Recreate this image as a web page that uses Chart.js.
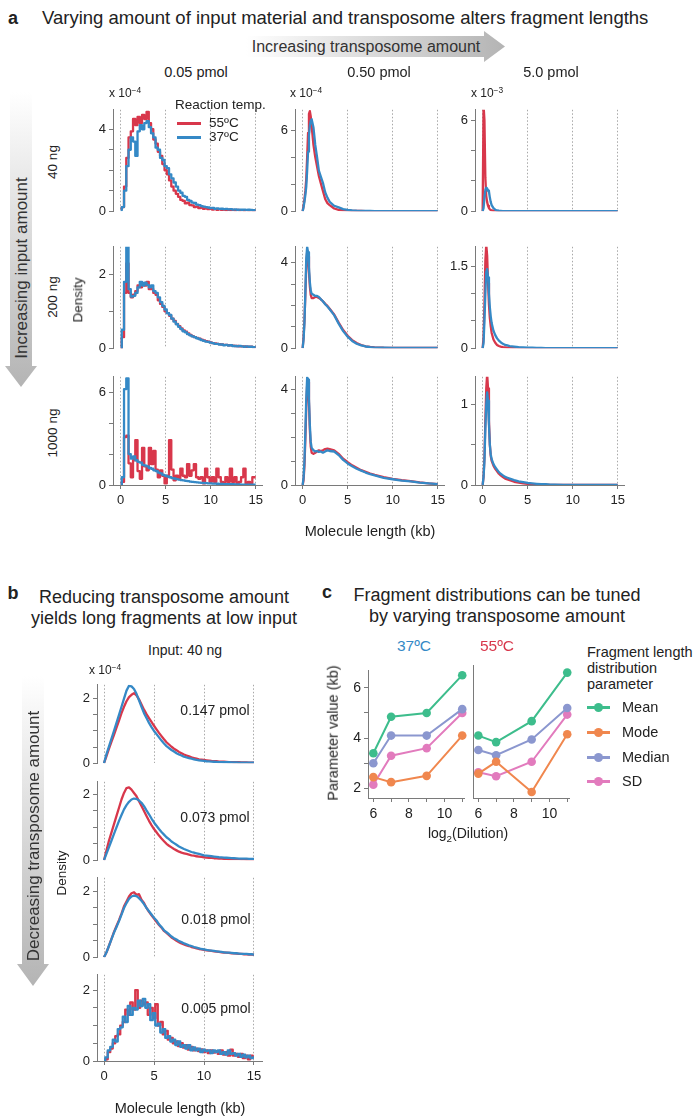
<!DOCTYPE html>
<html>
<head>
<meta charset="utf-8">
<script src="https://cdn.jsdelivr.net/npm/chart.js@4.4.1/dist/chart.umd.min.js"></script>
<style>
  body { margin: 0; background: #fff; width: 696px; height: 1119px; position: relative; overflow: hidden;
         font-family: "Liberation Sans", Arial, sans-serif; color: #222; }
  .t { position: absolute; white-space: nowrap; line-height: 1; z-index: 3; }
  canvas { position: absolute; z-index: 2; }
  svg.arrows { position: absolute; left: 0; top: 0; z-index: 1; }
  .key { position: absolute; height: 2.5px; z-index: 3; }
  .dot { position: absolute; width: 9px; height: 9px; border-radius: 50%; z-index: 3; }
  sup { font-size: 70%; vertical-align: 0.45em; line-height: 0; }
</style>
</head>
<body>
<svg class="arrows" width="696" height="1119">
  <defs>
    <linearGradient id="gH" x1="0" x2="1" y1="0" y2="0">
      <stop offset="0" stop-color="#ffffff"/><stop offset="1" stop-color="#b4b4b4"/>
    </linearGradient>
    <linearGradient id="gV" x1="0" x2="0" y1="0" y2="1">
      <stop offset="0" stop-color="#ffffff"/><stop offset="1" stop-color="#b4b4b4"/>
    </linearGradient>
  </defs>
  <polygon points="246,36 484,36 484,31 505,46.5 484,62 484,57 246,57" fill="url(#gH)"/>
  <polygon points="10,92 32,92 32,366 37,366 21,387 5,366 10,366" fill="url(#gV)"/>
  <polygon points="22,676 44,676 44,964 49,964 33,986 17,964 22,964" fill="url(#gV)"/>
</svg>

<script>
// ---- x grids (kb) ----
const kbCoarse = [0,0.25,0.5,0.75,1,1.25,1.5,1.75,2,2.25,
  2.5,2.75,3,3.25,3.5,3.75,4,4.25,4.5,4.75,
  5,5.25,5.5,5.75,6,6.25,6.5,6.75,7,7.25,
  7.5,7.75,8,8.25,8.5,8.75,9,9.25,9.5,9.75,
  10,10.25,10.5,10.75,11,11.25,11.5,11.75,12,12.25,
  12.5,12.75,13,13.25,13.5,13.75,14,14.25,14.5,14.75,15];
const kbFine = [0,0.1,0.2,0.3,0.4,0.5,0.6,0.7,0.8,0.9,
  1,1.2,1.4,1.6,1.8,2,2.25,2.5,2.75,3,
  3.5,4,4.5,5,5.5,6,6.5,7,7.5,8,9,10,11,12,13,14,15];

// ---- panel a: density, 0.05 pmol (x 1e-4) ----
const ng40_p005_37C = [0.05,0.2,1.0,2.2,3.0,3.6,3.4,2.7,3.9,4.2,
  4.0,4.3,4.4,4.1,3.8,3.6,3.1,3.0,2.6,2.5,
  2.2,2.1,1.8,1.6,1.4,1.2,1.0,0.9,0.75,0.7,
  0.55,0.5,0.42,0.4,0.32,0.3,0.25,0.22,0.2,0.18,
  0.15,0.16,0.12,0.14,0.11,0.12,0.1,0.11,0.09,0.1,
  0.08,0.09,0.07,0.08,0.07,0.08,0.06,0.07,0.06,0.05,0.05];
const ng40_p005_55C = [0.1,0.2,1.2,2.6,3.6,3.9,4.5,4.2,4.6,4.3,
  4.7,4.5,4.85,4.3,4.0,3.5,3.3,2.9,2.7,2.3,
  2.0,1.8,1.5,1.2,1.0,0.85,0.7,0.55,0.5,0.38,
  0.42,0.3,0.28,0.2,0.22,0.15,0.18,0.12,0.14,0.1,
  0.12,0.08,0.1,0.07,0.09,0.06,0.08,0.05,0.07,0.05,
  0.06,0.04,0.06,0.04,0.05,0.03,0.05,0.03,0.04,0.03,0.03];
const ng200_p005_37C = [0,0.5,1.8,2.75,1.6,1.4,1.42,1.5,1.65,1.8,
  1.7,1.78,1.72,1.65,1.7,1.55,1.5,1.38,1.25,1.15,
  1.05,0.95,0.9,0.8,0.72,0.65,0.58,0.52,0.46,0.43,
  0.38,0.35,0.32,0.3,0.27,0.25,0.22,0.2,0.18,0.17,
  0.15,0.14,0.12,0.12,0.1,0.1,0.08,0.09,0.07,0.08,
  0.06,0.06,0.05,0.06,0.05,0.04,0.05,0.04,0.04,0.03,0.03];
const ng200_p005_55C = [0,0.3,1.5,2.3,1.5,1.38,1.45,1.55,1.7,1.65,
  1.75,1.7,1.8,1.6,1.6,1.5,1.45,1.3,1.2,1.12,
  1.0,0.95,0.88,0.8,0.74,0.66,0.6,0.54,0.48,0.45,
  0.4,0.36,0.33,0.3,0.28,0.26,0.23,0.21,0.19,0.18,
  0.16,0.14,0.13,0.12,0.11,0.1,0.09,0.09,0.08,0.08,
  0.07,0.06,0.06,0.05,0.05,0.05,0.04,0.04,0.04,0.03,0.03];
const ng1000_p005_37C = [0,0.5,6.2,6.9,2.0,1.7,1.85,1.6,1.5,1.45,
  1.3,1.25,1.2,1.1,1.05,0.95,0.9,0.8,0.75,0.65,
  0.6,0.55,0.5,0.45,0.42,0.38,0.35,0.32,0.3,0.27,
  0.25,0.22,0.2,0.19,0.17,0.16,0.14,0.13,0.12,0.11,
  0.1,0.09,0.09,0.08,0.07,0.07,0.06,0.06,0.05,0.05,
  0.05,0.04,0.04,0.04,0.03,0.03,0.03,0.03,0.02,0.02,0.02];
const ng1000_p005_55C = [0,0.2,3.1,3.2,1.4,0.5,1.6,2.9,0.9,0.4,
  2.4,1.2,0.95,2.4,1.35,2.2,1.0,0.5,0.95,0.6,
  0.1,0.6,2.9,1.0,0.3,0.6,0.4,1.05,0.6,0.5,
  1.35,0.6,0.95,1.35,0.5,0.4,0.5,0.1,1.05,0.5,
  0.2,0.5,0.2,1.05,0.5,0.2,0.1,0.5,0.2,1.05,
  0.2,0.5,0.1,0.2,0.5,1.05,0.1,0.2,0.1,0.5,0.5];

// ---- panel a: 0.50 pmol (x 1e-4) ----
const ng40_p050_37C = [0,0.3,0.7,1.2,1.8,3.0,4.4,5.6,6.3,6.7,
  6.8,6.2,4.9,4.0,3.0,2.6,2.1,1.4,1.0,0.7,
  0.4,0.28,0.15,0.1,0.06,0.04,0.03,0.02,0.02,0.01,0.01,0.01,0.01,0.01,0.01,0.01,0.01];
const ng40_p050_55C = [0,0.4,0.9,1.5,2.4,4.0,5.8,7.2,7.4,7.0,
  6.3,4.9,4.0,3.3,2.6,2.1,1.5,0.9,0.6,0.45,
  0.2,0.1,0.06,0.04,0.03,0.02,0.02,0.01,0.01,0.01,0.01,0.01,0.01,0.01,0.01,0.01,0.01];
const ng200_p050_37C = [0,0.4,1.2,2.6,4.2,4.75,4.5,3.8,3.1,2.7,
  2.55,2.5,2.45,2.45,2.4,2.3,2.2,2.06,1.95,1.82,
  1.55,1.15,0.8,0.54,0.34,0.21,0.13,0.08,0.05,0.03,0.02,0.01,0.01,0.01,0.01,0.01,0.01];
const ng200_p050_55C = [0,0.5,1.3,2.5,3.8,4.5,4.3,3.6,2.9,2.5,
  2.35,2.35,2.4,2.4,2.35,2.3,2.2,2.08,1.98,1.85,
  1.58,1.2,0.85,0.58,0.38,0.24,0.15,0.09,0.06,0.04,0.02,0.01,0.01,0.01,0.01,0.01,0.01];
const ng1000_p050_37C = [0,0.3,1.0,2.2,3.6,4.5,4.4,3.6,2.5,1.8,
  1.55,1.45,1.4,1.42,1.38,1.4,1.35,1.4,1.45,1.42,
  1.4,1.25,1.05,0.9,0.78,0.68,0.6,0.52,0.45,0.4,0.3,0.24,0.18,0.15,0.1,0.07,0.04];
const ng1000_p050_55C = [0,0.2,0.8,1.9,3.2,4.2,4.3,3.5,2.3,1.6,
  1.35,1.3,1.35,1.4,1.45,1.42,1.45,1.5,1.52,1.5,
  1.45,1.3,1.1,0.95,0.82,0.72,0.62,0.55,0.48,0.42,0.33,0.26,0.2,0.16,0.11,0.07,0.04];

// ---- panel a: 5.0 pmol (x 1e-3) ----
const ng40_p5_37C = [0,0.2,0.9,1.4,1.55,1.5,1.35,1.3,0.9,0.6,
  0.4,0.2,0.1,0.05,0.03,0.02,0.01,0.01,0.005,0.005,
  0,0,0,0,0,0,0,0,0,0,0,0,0,0,0,0,0];
const ng40_p5_55C = [0,7.0,6.0,2.2,1.0,0.6,0.35,0.2,0.12,0.08,
  0.05,0.03,0.02,0.01,0.01,0.01,0.01,0,0,0,
  0,0,0,0,0,0,0,0,0,0,0,0,0,0,0,0,0];
const ng200_p5_37C = [0,0.1,0.5,1.0,1.4,1.45,1.3,1.0,0.75,0.58,
  0.46,0.32,0.24,0.18,0.14,0.11,0.08,0.06,0.05,0.04,
  0.03,0.02,0.015,0.01,0.01,0.005,0.005,0,0,0,0,0,0,0,0,0,0];
const ng200_p5_55C = [0,0.2,0.8,1.6,1.9,1.7,1.2,0.8,0.55,0.4,
  0.28,0.16,0.1,0.06,0.04,0.03,0.02,0.015,0.01,0.01,
  0.005,0.005,0,0,0,0,0,0,0,0,0,0,0,0,0,0,0];
const ng1000_p5_37C = [0,0.1,0.3,0.7,1.0,1.15,1.05,0.75,0.5,0.38,
  0.32,0.26,0.22,0.19,0.16,0.14,0.12,0.1,0.09,0.08,
  0.06,0.045,0.035,0.025,0.02,0.015,0.01,0.01,0.005,0.005,0,0,0,0,0,0,0];
const ng1000_p5_55C = [0,0.1,0.35,0.8,1.2,1.38,1.2,0.8,0.5,0.36,
  0.3,0.24,0.2,0.17,0.14,0.12,0.1,0.08,0.07,0.06,
  0.04,0.03,0.02,0.015,0.01,0.01,0.005,0.005,0,0,0,0,0,0,0,0,0];

// ---- panel b: input 40 ng (x 1e-4) ----
const p0147_37C = [0,0.28,0.52,0.76,1.0,1.25,1.5,1.75,2.0,2.25,
  2.4,2.38,2.3,2.15,1.95,1.75,1.55,1.4,1.25,1.12,
  1.0,0.9,0.8,0.7,0.61,0.53,0.47,0.41,0.36,0.31,
  0.27,0.24,0.2,0.18,0.16,0.14,0.12,0.1,0.09,0.08,
  0.07,0.06,0.055,0.05,0.045,0.04,0.035,0.035,0.03,0.03,
  0.03,0.025,0.025,0.025,0.02,0.02,0.02,0.02,0.02,0.02,0.02];
const p0147_55C = [0,0.22,0.45,0.67,0.88,1.1,1.32,1.55,1.75,1.92,
  2.05,2.12,2.17,2.1,1.98,1.82,1.66,1.52,1.4,1.28,
  1.16,1.05,0.94,0.84,0.74,0.65,0.58,0.51,0.45,0.4,
  0.35,0.31,0.27,0.24,0.21,0.18,0.16,0.14,0.12,0.11,
  0.1,0.09,0.08,0.07,0.065,0.06,0.05,0.05,0.045,0.04,
  0.035,0.035,0.03,0.03,0.03,0.025,0.025,0.025,0.02,0.02,0.02];
const p0073_37C = [0,0.2,0.4,0.6,0.8,1.0,1.2,1.38,1.55,1.68,
  1.78,1.85,1.88,1.87,1.82,1.75,1.65,1.52,1.4,1.27,
  1.15,1.05,0.95,0.86,0.78,0.7,0.64,0.57,0.52,0.47,
  0.42,0.38,0.34,0.31,0.28,0.25,0.23,0.21,0.19,0.17,
  0.15,0.14,0.13,0.12,0.11,0.1,0.09,0.085,0.08,0.075,
  0.07,0.065,0.06,0.055,0.05,0.05,0.045,0.045,0.04,0.04,0.04];
const p0073_55C = [0,0.3,0.6,0.85,1.1,1.35,1.6,1.85,2.05,2.2,
  2.22,2.15,2.05,1.95,1.8,1.65,1.5,1.35,1.2,1.07,
  0.95,0.85,0.75,0.66,0.58,0.5,0.44,0.39,0.34,0.3,
  0.26,0.23,0.21,0.19,0.17,0.15,0.14,0.12,0.11,0.1,
  0.09,0.08,0.075,0.07,0.06,0.055,0.05,0.045,0.04,0.04,
  0.035,0.035,0.03,0.03,0.03,0.025,0.025,0.02,0.02,0.02,0.02];
const p0018_37C = [0,0.15,0.35,0.55,0.75,0.92,1.1,1.3,1.5,1.65,
  1.78,1.85,1.88,1.86,1.8,1.72,1.62,1.5,1.4,1.3,
  1.2,1.12,1.0,0.92,0.82,0.76,0.7,0.63,0.58,0.54,
  0.49,0.46,0.42,0.39,0.36,0.34,0.31,0.29,0.27,0.25,
  0.24,0.22,0.21,0.2,0.19,0.18,0.17,0.16,0.15,0.14,
  0.14,0.13,0.12,0.12,0.11,0.1,0.1,0.1,0.09,0.09,0.08];
const p0018_55C = [0,0.15,0.35,0.56,0.77,0.95,1.13,1.33,1.55,1.7,
  1.85,1.95,1.98,1.9,1.92,1.75,1.65,1.5,1.38,1.28,
  1.18,1.08,0.98,0.9,0.8,0.74,0.67,0.6,0.55,0.5,
  0.46,0.42,0.39,0.36,0.34,0.31,0.29,0.27,0.25,0.24,
  0.22,0.21,0.2,0.19,0.18,0.17,0.16,0.15,0.14,0.14,
  0.13,0.12,0.12,0.11,0.1,0.1,0.09,0.09,0.08,0.08,0.08];
const p0005_37C = [0,0.1,0.3,0.4,0.6,0.55,0.9,0.95,1.25,1.1,
  1.55,1.3,1.5,1.45,1.7,1.55,1.75,1.5,1.6,1.15,
  1.35,1.0,1.05,0.8,0.9,0.65,0.7,0.55,0.6,0.45,
  0.55,0.4,0.45,0.35,0.45,0.3,0.38,0.3,0.35,0.25,
  0.32,0.28,0.3,0.22,0.3,0.25,0.3,0.2,0.25,0.18,
  0.3,0.2,0.22,0.15,0.2,0.12,0.18,0.1,0.15,0.08,0.1];
const p0005_55C = [0,0.05,0.25,0.35,0.5,0.7,0.75,1.0,1.1,1.45,
  1.3,1.65,1.45,2.0,1.5,1.7,1.6,1.65,1.3,1.5,
  1.2,1.6,1.0,1.1,0.75,0.85,0.6,0.65,0.5,0.55,
  0.42,0.5,0.38,0.45,0.32,0.4,0.3,0.35,0.28,0.33,
  0.25,0.3,0.22,0.3,0.24,0.28,0.2,0.3,0.18,0.25,
  0.15,0.32,0.15,0.2,0.12,0.2,0.08,0.15,0.05,0.15,0.1];

// ---- panel c: fragment length parameters (kb) ----
const dilutionLog2 = [6, 7, 9, 11];
const mean37C = [3.4, 4.85, 5.0, 6.5];
const mode37C = [2.45, 2.25, 2.5, 4.1];
const median37C = [3.0, 4.1, 4.1, 5.15];
const sd37C = [2.15, 3.3, 3.6, 5.0];
const mean55C = [4.0, 3.75, 4.55, 6.4];
const mode55C = [2.55, 3.0, 1.85, 4.05];
const median55C = [3.45, 3.25, 3.85, 5.05];
const sd55C = [2.6, 2.45, 3.0, 4.8];
const paramNames = ['Mean', 'Mode', 'Median', 'SD'];

const RED = '#d8374b';
const BLUE = '#3589c6';
const PARAM_COLORS = ['#3dbd8c', '#f0874e', '#8b97cf', '#e27bbd'];
const AXIS = '#7a7a7a';

Chart.defaults.font.family = '"Liberation Sans", Arial, sans-serif';
Chart.defaults.font.size = 13;
Chart.defaults.color = '#222';

const Y_W = 30, X_H = 25, PAD_T = 6, PAD_R = 8, PAD_B = 3;

function txt(html, x, y, o = {}) {
  const d = document.createElement('div');
  d.className = 't';
  d.innerHTML = html;
  d.style.left = x + 'px';
  d.style.top = y + 'px';
  d.style.fontSize = (o.size || 13) + 'px';
  if (o.bold) d.style.fontWeight = 'bold';
  if (o.color) d.style.color = o.color;
  const tx = o.left ? '0' : '-50%';
  d.style.transform = `translate(${tx}, -50%)` + (o.rot ? ` rotate(${o.rot}deg)` : '');
  document.body.appendChild(d);
}

function makeCanvas(x, y, w, h) {
  const c = document.createElement('canvas');
  c.width = w; c.height = h;
  c.style.left = x + 'px'; c.style.top = y + 'px';
  document.body.appendChild(c);
  return c;
}

function pts(xs, ys) {
  return xs.map((x, i) => ({ x, y: ys[i] }));
}

// one density panel; area = plot box in page pixels
function densityPanel(p) {
  const { area, xs, blue, red, yMax, yStep, yLabeled, xMin, xMax, showX, stepped } = p;
  const h = PAD_T + area.h + (showX ? X_H : PAD_B);
  const canvas = makeCanvas(area.x - Y_W, area.y - PAD_T, Y_W + area.w + PAD_R, h);
  const line = (data, color) => ({
    data, borderColor: color, borderWidth: 2.3, pointRadius: 0, tension: 0,
    borderJoinStyle: 'round', stepped: stepped ? 'middle' : false
  });
  new Chart(canvas, {
    type: 'line',
    data: { datasets: [line(pts(xs, blue), BLUE), line(pts(xs, red), RED)] },
    options: {
      responsive: false, animation: false, devicePixelRatio: 1,
      layout: { padding: { top: PAD_T, right: PAD_R, bottom: showX ? 0 : PAD_B, left: 0 } },
      plugins: { legend: { display: false }, tooltip: { enabled: false } },
      scales: {
        x: {
          type: 'linear', min: xMin, max: xMax,
          ticks: { stepSize: 5, display: showX, includeBounds: false, autoSkip: false,
                   maxRotation: 0, padding: 4 },
          grid: { color: '#a8a8a8', drawTicks: showX, tickLength: 4, tickColor: AXIS, tickBorderDash: [] },
          border: { display: showX, color: AXIS, dash: [1.5, 2] },
          afterFit: s => { s.height = showX ? X_H : 0; }
        },
        y: {
          min: 0, max: yMax,
          ticks: { stepSize: yStep, includeBounds: false, autoSkip: false, padding: 3,
                   callback: v => yLabeled.includes(v) ? String(v) : '' },
          grid: { drawOnChartArea: false, tickLength: 4, color: AXIS },
          border: { color: AXIS },
          afterFit: s => { s.width = Y_W; }
        }
      }
    }
  });
}

// ---- panel a layout ----
const aCols = [113, 295, 475];
const aRows = [{ y: 105, h: 114 }, { y: 242, h: 114 }, { y: 372, h: 113 }];
const aCurves = [
  [[ng40_p005_37C, ng40_p005_55C], [ng40_p050_37C, ng40_p050_55C], [ng40_p5_37C, ng40_p5_55C]],
  [[ng200_p005_37C, ng200_p005_55C], [ng200_p050_37C, ng200_p050_55C], [ng200_p5_37C, ng200_p5_55C]],
  [[ng1000_p005_37C, ng1000_p005_55C], [ng1000_p050_37C, ng1000_p050_55C], [ng1000_p5_37C, ng1000_p5_55C]]
];
const aYMax = [[4.95, 7.5, 6.7], [2.75, 4.75, 1.86], [7.0, 4.52, 1.345]];
const aYStep = [[1, 2, 2], [1, 1, 0.5], [2, 1, 0.5]];
const aYLabeled = [[[0, 4], [0, 6], [0, 6]], [[0, 2], [0, 4], [0, 1.5]], [[0, 6], [0, 4], [0, 1]]];

aRows.forEach((row, r) => {
  aCols.forEach((cx, c) => {
    densityPanel({
      area: { x: cx, y: row.y, w: 149, h: row.h },
      xs: c === 0 ? kbCoarse : kbFine,
      blue: aCurves[r][c][0], red: aCurves[r][c][1],
      yMax: aYMax[r][c], yStep: aYStep[r][c], yLabeled: aYLabeled[r][c],
      xMin: -0.85, xMax: 15.7, showX: r === 2, stepped: c === 0
    });
  });
});

// ---- panel b layout ----
const bRows = [{ y: 680, h: 91 }, { y: 777, h: 91 }, { y: 873, h: 92 }, { y: 970, h: 91 }];
const bCurves = [[p0147_37C, p0147_55C], [p0073_37C, p0073_55C], [p0018_37C, p0018_55C], [p0005_37C, p0005_55C]];
const bYMax = [2.43, 2.39, 2.42, 2.43];
bRows.forEach((row, r) => {
  densityPanel({
    area: { x: 97, y: row.y, w: 165, h: row.h },
    xs: kbCoarse, blue: bCurves[r][0], red: bCurves[r][1],
    yMax: bYMax[r], yStep: 0.5, yLabeled: [0, 2],
    xMin: -0.7, xMax: 15.8, showX: r === 3, stepped: r === 3
  });
});

// ---- panel c ----
function paramPanel(areaX, series, showY) {
  const area = { x: areaX, y: 665, w: 96, h: 133 };
  const canvas = makeCanvas(area.x - Y_W, area.y - PAD_T, Y_W + area.w + PAD_R, PAD_T + area.h + X_H);
  new Chart(canvas, {
    type: 'line',
    data: {
      datasets: series.map((s, i) => ({
        label: paramNames[i], data: pts(dilutionLog2, s),
        borderColor: PARAM_COLORS[i], backgroundColor: PARAM_COLORS[i],
        borderWidth: 2, pointRadius: 4.3, pointBorderWidth: 0, tension: 0, clip: false
      }))
    },
    options: {
      responsive: false, animation: false, devicePixelRatio: 1,
      layout: { padding: { top: PAD_T, right: PAD_R, bottom: 0, left: 0 } },
      plugins: { legend: { display: false }, tooltip: { enabled: false } },
      scales: {
        x: {
          type: 'linear', min: 5.7, max: 11.1,
          ticks: { stepSize: 1, includeBounds: false, autoSkip: false, maxRotation: 0, padding: 4,
                   font: { size: 14 }, callback: v => [6, 8, 10].includes(v) ? String(v) : '' },
          grid: { drawOnChartArea: false, tickLength: 4, color: AXIS },
          border: { color: AXIS },
          afterFit: s => { s.height = X_H; }
        },
        y: {
          min: 1.62, max: 6.69,
          ticks: { stepSize: 1, includeBounds: false, autoSkip: false, padding: 3, display: showY,
                   font: { size: 14 }, callback: v => [2, 4, 6].includes(v) ? String(v) : '' },
          grid: { drawOnChartArea: false, drawTicks: showY, tickLength: 4, color: AXIS },
          border: { color: AXIS },
          afterFit: s => { s.width = Y_W; }
        }
      }
    }
  });
}
paramPanel(368, [mean37C, mode37C, median37C, sd37C], true);
paramPanel(473, [mean55C, mode55C, median55C, sd55C], false);

// ---- text: panel a ----
txt('a', 13, 18, { size: 18, bold: true });
txt('Varying amount of input material and transposome alters fragment lengths', 42, 18, { size: 18.5, left: true });
txt('Increasing transposome amount', 366, 47, { size: 16, color: '#333' });
txt('0.05 pmol', 196, 72, { size: 14.5 });
txt('0.50 pmol', 379, 72, { size: 14.5 });
txt('5.0 pmol', 551, 72, { size: 14.5 });
txt('x 10<sup>−4</sup>', 125, 93, { size: 12 });
txt('x 10<sup>−4</sup>', 306, 93, { size: 12 });
txt('x 10<sup>−3</sup>', 487, 93, { size: 12 });
txt('Increasing input amount', 21, 268, { size: 17, color: '#333', rot: -90 });
txt('40 ng', 53, 162, { size: 13.5, rot: -90 });
txt('200 ng', 53, 297, { size: 13.5, rot: -90 });
txt('1000 ng', 53, 433, { size: 13.5, rot: -90 });
txt('Density', 78, 300, { size: 13.5, rot: -90 });
txt('Molecule length (kb)', 370, 531, { size: 14.5 });
txt('Reaction temp.', 175, 105, { size: 13.5, left: true });
txt('55ºC', 209, 123, { size: 13.5, left: true });
txt('37ºC', 209, 137, { size: 13.5, left: true });
[[123, RED], [137, BLUE]].forEach(([y, col]) => {
  const k = document.createElement('div');
  k.className = 'key';
  k.style.left = '177px'; k.style.top = (y - 1) + 'px'; k.style.width = '24px'; k.style.background = col;
  document.body.appendChild(k);
});

// ---- text: panel b ----
txt('b', 13, 593, { size: 18, bold: true });
txt('Reducing transposome amount', 164, 597, { size: 18 });
txt('yields long fragments at low input', 164, 618, { size: 18 });
txt('Input: 40 ng', 185, 650, { size: 14 });
txt('x 10<sup>−4</sup>', 105, 670, { size: 12 });
txt('0.147 pmol', 215, 710, { size: 14 });
txt('0.073 pmol', 215, 817, { size: 14 });
txt('0.018 pmol', 216, 919, { size: 14 });
txt('0.005 pmol', 216, 1008, { size: 14 });
txt('Density', 62, 873, { size: 13.5, rot: -90 });
txt('Decreasing transposome amount', 33, 836, { size: 17, color: '#333', rot: -90 });
txt('Molecule length (kb)', 180, 1108, { size: 14.5 });

// ---- text: panel c ----
txt('c', 327, 592, { size: 18, bold: true });
txt('Fragment distributions can be tuned', 497, 595, { size: 18 });
txt('by varying transposome amount', 497, 616, { size: 18 });
txt('37ºC', 414, 646, { size: 15.5, color: BLUE });
txt('55ºC', 497, 646, { size: 15.5, color: RED });
txt('Parameter value (kb)', 333, 733, { size: 14.5, rot: -90 });
txt('log<sub style="font-size:70%">2</sub>(Dilution)', 468, 835, { size: 14 });
txt('Fragment length', 587, 652, { size: 14.5, left: true });
txt('distribution', 587, 668, { size: 14.5, left: true });
txt('parameter', 587, 684, { size: 14.5, left: true });
paramNames.forEach((name, i) => {
  const y = [707, 732, 757, 781][i];
  const k = document.createElement('div');
  k.className = 'key';
  k.style.left = '587px'; k.style.top = (y - 1) + 'px'; k.style.width = '23px';
  k.style.background = PARAM_COLORS[i];
  document.body.appendChild(k);
  const d = document.createElement('div');
  d.className = 'dot';
  d.style.left = '594px'; d.style.top = (y - 4) + 'px'; d.style.background = PARAM_COLORS[i];
  document.body.appendChild(d);
  txt(name, 622, y, { size: 14.5, left: true });
});
</script>
</body>
</html>
